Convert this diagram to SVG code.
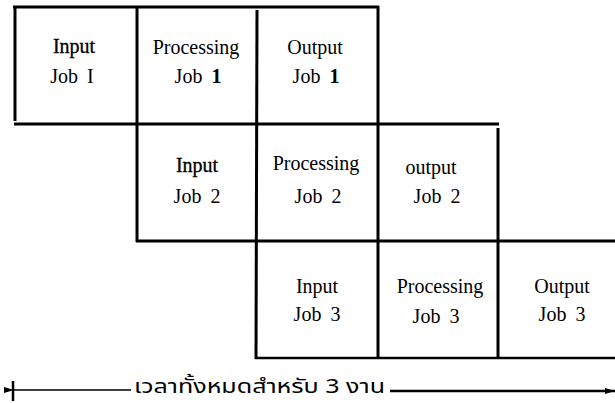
<svg xmlns="http://www.w3.org/2000/svg" width="615" height="403" viewBox="0 0 615 403">
<style>
.t{font-family:"Liberation Serif","Times New Roman",serif;font-size:20px;fill:#000;text-anchor:middle;word-spacing:4px}
.h{stroke:#000;stroke-width:0.3px}
.g{stroke:#000;stroke-width:3;fill:none}
.th{font-family:"Noto Sans Thai","Noto Sans",sans-serif;font-size:20px;fill:#000}
</style>
<defs>
<marker id="al" viewBox="0 0 10 10" refX="0" refY="5" markerWidth="10" markerHeight="10" markerUnits="userSpaceOnUse" orient="auto">
<path d="M0,5 L10,2 L10,8 Z" fill="#000"/>
</marker>
<marker id="ar" viewBox="0 0 10 10" refX="10" refY="5" markerWidth="10" markerHeight="10" markerUnits="userSpaceOnUse" orient="auto">
<path d="M10,5 L0,2 L0,8 Z" fill="#000"/>
</marker>
</defs>
<g id="grid" class="g">
<line x1="13" y1="7" x2="379" y2="7"/>
<line x1="15" y1="7" x2="15" y2="121"/>
<line x1="137" y1="7" x2="137" y2="242"/>
<line x1="257" y1="10" x2="256" y2="359"/>
<line x1="378" y1="6" x2="378" y2="359"/>
<line x1="14" y1="124" x2="499" y2="124"/>
<line x1="498" y1="128" x2="498" y2="359"/>
<line x1="136" y1="241" x2="615" y2="241"/>
<line x1="255" y1="358" x2="615" y2="358" stroke-width="2.5"/>
</g>
<g id="r1c1"><text class="t h" x="74" y="53">Input</text><text class="t" x="72" y="83">Job I</text></g>
<g id="r1c2"><text class="t" x="196" y="54">Processing</text><text class="t" x="198" y="83">Job <tspan font-weight="bold">1</tspan></text></g>
<g id="r1c3"><text class="t" x="315" y="54">Output</text><text class="t" x="316" y="83">Job <tspan font-weight="bold">1</tspan></text></g>
<g id="r2c1"><text class="t h" x="197" y="172">Input</text><text class="t" x="197" y="203">Job 2</text></g>
<g id="r2c2"><text class="t" x="316" y="170">Processing</text><text class="t" x="318" y="203">Job 2</text></g>
<g id="r2c3"><text class="t" x="431" y="174">output</text><text class="t" x="437" y="203">Job 2</text></g>
<g id="r3c1"><text class="t" x="317" y="293">Input</text><text class="t" x="317" y="321">Job 3</text></g>
<g id="r3c2"><text class="t" x="440" y="293">Processing</text><text class="t" x="436" y="323">Job 3</text></g>
<g id="r3c3"><text class="t" x="562" y="293">Output</text><text class="t" x="562" y="321">Job 3</text></g>
<g id="connectors">
<line x1="13" y1="381" x2="13" y2="401" stroke="#000" stroke-width="2.5"/>
<line x1="131" y1="390" x2="14" y2="390" stroke="#000" stroke-width="1.5" marker-end="url(#al)"/>
<line x1="390" y1="391" x2="615" y2="391" stroke="#000" stroke-width="2.5" marker-end="url(#ar)"/>
<text class="th" x="134" y="393" textLength="251" lengthAdjust="spacingAndGlyphs">เวลาทั้งหมดสำหรับ 3 งาน</text>
</g>
</svg>
